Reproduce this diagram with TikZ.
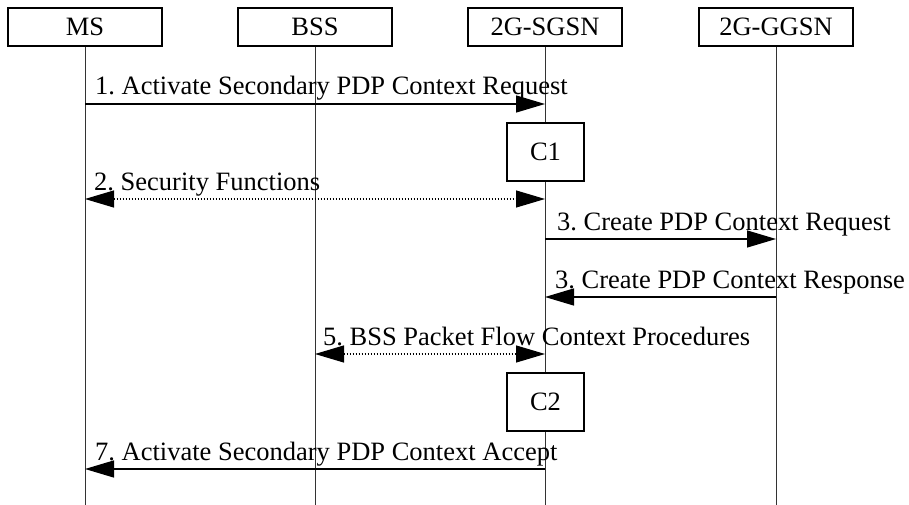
\documentclass[tikz,border=0pt]{standalone}
\usepackage{fontspec}
\setmainfont{Liberation Serif}
\usetikzlibrary{arrows.meta}
\frenchspacing

\begin{document}
\begin{tikzpicture}[x=1pt,y=-1pt,
  font=\fontsize{26.5}{30}\selectfont,
  entity/.style={draw,line width=1.3pt,minimum width=154pt,minimum height=38pt,inner sep=0pt},
  cbox/.style={draw,line width=1.3pt,fill=white,minimum width=77pt,minimum height=58pt,inner sep=0pt},
  life/.style={line width=0.8pt,black!80},
  msg/.style={line width=1.3pt,-{Triangle[length=29pt,width=17pt]}},
  proc/.style={line width=1.2pt,dash pattern=on 1.2pt off 1.8pt,
    {Triangle[length=29pt,width=17pt]}-{Triangle[length=29pt,width=17pt]}},
  lbl/.style={anchor=base west,inner sep=0pt}]
\useasboundingbox (0,0) rectangle (909,505);
% entities
\node[entity] (ms) at (85,27) {MS};
\node[entity] (bss) at (315,27) {BSS};
\node[entity] (sgsn) at (545,27) {2G-SGSN};
\node[entity] (ggsn) at (776,27) {2G-GGSN};
\coordinate (msend) at (85,505);
\coordinate (bssend) at (315,505);
\coordinate (sgsnend) at (545,505);
\coordinate (ggsnend) at (776,505);
\draw[life] (ms.south) -- (msend);
\draw[life] (bss.south) -- (bssend);
\draw[life] (sgsn.south) -- (sgsnend);
\draw[life] (ggsn.south) -- (ggsnend);
% 1
\coordinate (ms1) at (85,104);
\coordinate (sgsn1) at (545,104);
\draw[msg] (ms1) -- (sgsn1);
\node[lbl] (l1) at (95,95) {1. Activate Secondary PDP Context Request};
\node[cbox] (c1) at (545.5,152) {C1};
% 2
\coordinate (ms2) at (85,199);
\coordinate (sgsn2) at (545,199);
\draw[proc] (ms2) -- (sgsn2);
\node[lbl] (l2) at (94,190) {2. Security Functions};
% 3
\coordinate (sgsn3) at (545,239);
\coordinate (ggsn3) at (776,239);
\draw[msg] (sgsn3) -- (ggsn3);
\node[lbl] (l3) at (557,230) {3. Create PDP Context Request};
\coordinate (ggsn4) at (776,297);
\coordinate (sgsn4) at (545,297);
\draw[msg] (ggsn4) -- (sgsn4);
\node[lbl] (l4) at (555,288) {3. Create PDP Context Response};
% 5
\coordinate (bss5) at (315,354);
\coordinate (sgsn5) at (545,354);
\draw[proc] (bss5) -- (sgsn5);
\node[lbl] (l5) at (323,345) {5. BSS Packet Flow Context Procedures};
\node[cbox] (c2) at (545.5,402) {C2};
% 7
\coordinate (sgsn7) at (545,469);
\coordinate (ms7) at (85,469);
\draw[msg] (sgsn7) -- (ms7);
\node[lbl] (l7) at (95,460) {7. Activate Secondary PDP Context Accept};
\end{tikzpicture}
\end{document}
